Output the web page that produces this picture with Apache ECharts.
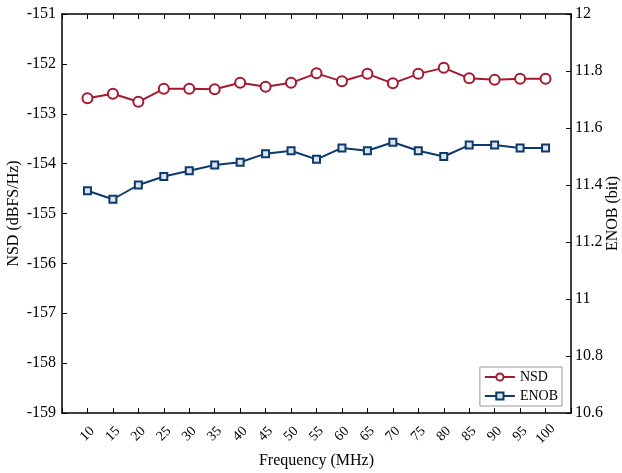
<!DOCTYPE html>
<html><head><meta charset="utf-8">
<script src="https://cdn.jsdelivr.net/npm/echarts@6/dist/echarts.min.js"></script>
<style>html,body{margin:0;padding:0;background:#fff}#c{width:622px;height:473px}</style>
</head><body><div id="c"></div>
<script>
var freqs = [10,15,20,25,30,35,40,45,50,55,60,65,70,75,80,85,90,95,100];
var nsd = [-152.69,-152.60,-152.76,-152.50,-152.50,-152.51,-152.38,-152.46,-152.38,-152.19,-152.35,-152.20,-152.39,-152.20,-152.08,-152.29,-152.32,-152.30,-152.30];
var enob = [11.38,11.35,11.40,11.43,11.45,11.47,11.48,11.51,11.52,11.49,11.53,11.52,11.55,11.52,11.50,11.54,11.54,11.53,11.53];
var F = 'Liberation Serif';
var RED = '#A3192F', BLUE = '#0C3A6B';
function pairs(v){ return freqs.map(function(f,i){return [f,v[i]];}); }
var chart = echarts.init(document.getElementById('c'));
var axLine = {show:true, lineStyle:{color:'#000', width:1.5}};
chart.setOption({
  animation:false,
  grid:{left:62, right:51, top:14, bottom:60, show:false, containLabel:false, outerBoundsMode:'none'},
  legend:{
    orient:'vertical', right:60, bottom:67, itemWidth:30, itemHeight:9, itemGap:5,
    backgroundColor:'#fff', borderColor:'#999', borderWidth:1, padding:[3,4,3,4],
    textStyle:{fontFamily:F, fontSize:14, color:'#000'},
    data:['NSD','ENOB']
  },
  xAxis:[{
    type:'value', min:5, max:105, interval:5,
    name:'Frequency (MHz)', nameLocation:'middle', nameGap:40, nameMoveOverlap:false,
    nameTextStyle:{fontFamily:F, fontSize:16, color:'#000'},
    axisLine:axLine, splitLine:{show:false},
    axisTick:{inside:true, length:5, lineStyle:{color:'#000'}},
    axisLabel:{rotate:45, align:'center', verticalAlign:'middle', margin:21, fontFamily:F, fontSize:14, color:'#000',
      formatter:function(v){return (v<10||v>100)?'':String(v);}}
  },{
    type:'value', position:'top', min:5, max:105, interval:5,
    axisLine:axLine, splitLine:{show:false},
    axisTick:{inside:true, length:5, lineStyle:{color:'#000'}},
    axisLabel:{show:false}
  }],
  yAxis:[{
    type:'value', min:-159, max:-151, interval:1,
    name:'NSD (dBFS/Hz)', nameLocation:'middle', nameGap:40, nameMoveOverlap:false,
    nameTextStyle:{fontFamily:F, fontSize:16, color:'#000'},
    axisLine:axLine, splitLine:{show:false},
    axisTick:{inside:true, length:5, lineStyle:{color:'#000'}},
    axisLabel:{margin:6, fontFamily:F, fontSize:16, color:'#000'}
  },{
    type:'value', min:10.6, max:12, interval:0.2, position:'right',
    name:'ENOB (bit)', nameLocation:'middle', nameGap:34, nameMoveOverlap:false,
    nameTextStyle:{fontFamily:F, fontSize:16, color:'#000'},
    axisLine:axLine, splitLine:{show:false},
    axisTick:{inside:true, length:5, lineStyle:{color:'#000'}},
    axisLabel:{margin:4, fontFamily:F, fontSize:16, color:'#000',
      formatter:function(v){return String(Math.round(v*10)/10);}}
  }],
  series:[{
    name:'NSD', type:'line', yAxisIndex:0, data:pairs(nsd),
    symbol:'circle', symbolSize:10,
    itemStyle:{color:'#fff', borderColor:RED, borderWidth:2},
    lineStyle:{color:RED, width:2}
  },{
    name:'ENOB', type:'line', yAxisIndex:1, data:pairs(enob),
    symbol:'rect', symbolSize:7,
    itemStyle:{color:'#dde5ef', borderColor:BLUE, borderWidth:2},
    lineStyle:{color:BLUE, width:2}
  }]
});
</script></body></html>
